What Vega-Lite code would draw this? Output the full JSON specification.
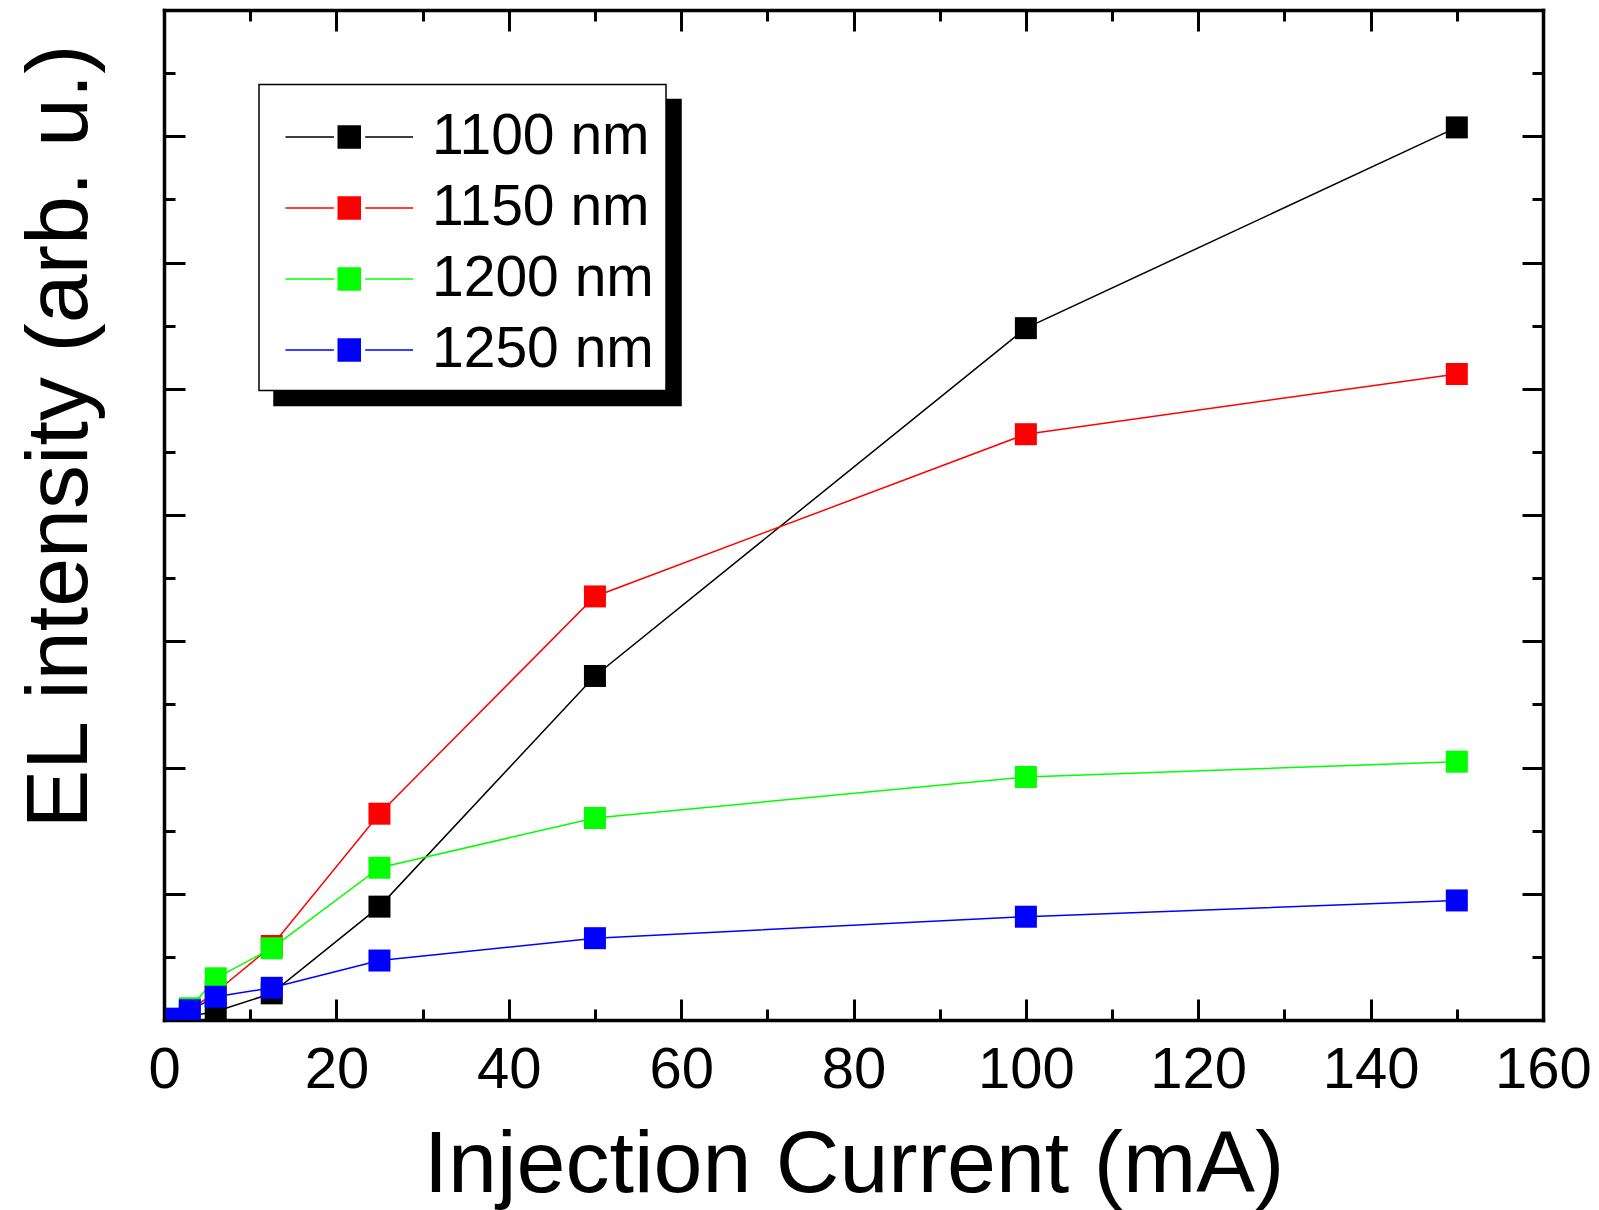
{
  "$schema": "https://vega.github.io/schema/vega-lite/v6.json",
  "width": 1379,
  "height": 1010,
  "autosize": {"type": "none"},
  "padding": {"left": 164, "top": 10, "right": 56, "bottom": 190},
  "background": "white",
  "config": {
    "view": {"stroke": null},
    "font": "Liberation Sans",
    "axis": {
      "domainColor": "black", "domainWidth": 3.5, "domainCap": "square",
      "tickColor": "black", "tickWidth": 3, "grid": false,
      "labelFont": "Liberation Sans", "titleFont": "Liberation Sans",
      "labelColor": "black", "titleColor": "black", "titleFontWeight": "normal"
    },
    "legend": {"labelFont": "Liberation Sans", "strokeWidth": 1.5, "labelLimit": 0}
  },
  "data": {
    "values": [
      {"I": 1.5, "v": 0.005, "series": "1100 nm", "s2": "1100 nm"},
      {"I": 3, "v": 0.03, "series": "1100 nm", "s2": "1100 nm"},
      {"I": 6, "v": 0.067, "series": "1100 nm", "s2": "1100 nm"},
      {"I": 12.5, "v": 0.211, "series": "1100 nm", "s2": "1100 nm"},
      {"I": 25, "v": 0.898, "series": "1100 nm", "s2": "1100 nm"},
      {"I": 50, "v": 2.725, "series": "1100 nm", "s2": "1100 nm"},
      {"I": 100, "v": 5.48, "series": "1100 nm", "s2": "1100 nm"},
      {"I": 150, "v": 7.07, "series": "1100 nm", "s2": "1100 nm"},
      {"I": 1.5, "v": 0.008, "series": "1150 nm", "s2": "1150 nm"},
      {"I": 3, "v": 0.08, "series": "1150 nm", "s2": "1150 nm"},
      {"I": 6, "v": 0.22, "series": "1150 nm", "s2": "1150 nm"},
      {"I": 12.5, "v": 0.586, "series": "1150 nm", "s2": "1150 nm"},
      {"I": 25, "v": 1.634, "series": "1150 nm", "s2": "1150 nm"},
      {"I": 50, "v": 3.355, "series": "1150 nm", "s2": "1150 nm"},
      {"I": 100, "v": 4.64, "series": "1150 nm", "s2": "1150 nm"},
      {"I": 150, "v": 5.117, "series": "1150 nm", "s2": "1150 nm"},
      {"I": 1.5, "v": 0.01, "series": "1200 nm", "s2": "1200 nm"},
      {"I": 3, "v": 0.093, "series": "1200 nm", "s2": "1200 nm"},
      {"I": 6, "v": 0.33, "series": "1200 nm", "s2": "1200 nm"},
      {"I": 12.5, "v": 0.568, "series": "1200 nm", "s2": "1200 nm"},
      {"I": 25, "v": 1.206, "series": "1200 nm", "s2": "1200 nm"},
      {"I": 50, "v": 1.6, "series": "1200 nm", "s2": "1200 nm"},
      {"I": 100, "v": 1.925, "series": "1200 nm", "s2": "1200 nm"},
      {"I": 150, "v": 2.046, "series": "1200 nm", "s2": "1200 nm"},
      {"I": 1.5, "v": 0.01, "series": "1250 nm", "s2": "1250 nm"},
      {"I": 3, "v": 0.077, "series": "1250 nm", "s2": "1250 nm"},
      {"I": 6, "v": 0.184, "series": "1250 nm", "s2": "1250 nm"},
      {"I": 12.5, "v": 0.255, "series": "1250 nm", "s2": "1250 nm"},
      {"I": 25, "v": 0.471, "series": "1250 nm", "s2": "1250 nm"},
      {"I": 50, "v": 0.648, "series": "1250 nm", "s2": "1250 nm"},
      {"I": 100, "v": 0.818, "series": "1250 nm", "s2": "1250 nm"},
      {"I": 150, "v": 0.947, "series": "1250 nm", "s2": "1250 nm"}
    ]
  },
  "layer": [
    {
      "mark": {"type": "line", "strokeWidth": 1.5, "clip": true},
      "encoding": {
        "x": {
          "field": "I", "type": "quantitative",
          "scale": {"domain": [0, 160], "nice": false, "zero": false},
          "axis": {
            "orient": "bottom",
            "values": [0, 10, 20, 30, 40, 50, 60, 70, 80, 90, 100, 110, 120, 130, 140, 150, 160],
            "labelExpr": "datum.value % 20 === 0 ? datum.label : ''",
            "tickSize": {"condition": {"test": "datum.value % 20 === 0", "value": -21}, "value": -11},
            "labelFontSize": 58, "labelPadding": 42, "labelFlush": false, "labelOverlap": false,
            "title": "Injection Current (mA)", "titleFontSize": 88,
            "titleBaseline": "alphabetic", "titleY": 171
          }
        },
        "y": {
          "field": "v", "type": "quantitative",
          "scale": {"domain": [0, 8], "nice": false},
          "axis": {
            "orient": "left",
            "values": [0, 0.5, 1, 1.5, 2, 2.5, 3, 3.5, 4, 4.5, 5, 5.5, 6, 6.5, 7, 7.5, 8],
            "labels": false,
            "tickSize": {"condition": {"test": "datum.value % 1 === 0", "value": -21}, "value": -11},
            "title": "EL intensity (arb. u.)", "titleFontSize": 88,
            "titleBaseline": "alphabetic", "titleAngle": -90, "titleX": -78, "titleY": 426
          }
        },
        "color": {
          "field": "series", "type": "nominal",
          "scale": {"domain": ["1100 nm", "1150 nm", "1200 nm", "1250 nm"], "range": ["#000000", "#ff0000", "#00ff00", "#0000ff"]}
        },
        "opacity": {
          "field": "s2", "type": "nominal",
          "scale": {"range": [1, 1, 1, 1]},
          "legend": {
            "orient": "none", "legendX": 110, "legendY": 89.6,
            "title": " ", "titleFontSize": 1, "titlePadding": 11,
            "fillColor": "black", "strokeColor": "black",
            "padding": 12, "rowPadding": 13,
            "symbolType": "M-5.8,0H-1.4M1.45,0H5.8M-1,-1H1V1H-1Z",
            "symbolSize": 484, "symbolOffset": 49.75, "symbolOpacity": 0, "labelOpacity": 0,
            "labelFontSize": 57, "labelOffset": 54.25, "labelColor": "black",
            "zindex": 0
          }
        }
      }
    },
    {
      "mark": {"type": "point", "shape": "square", "filled": true, "size": 484, "opacity": 1, "clip": true},
      "encoding": {
        "x": {
          "field": "I", "type": "quantitative",
          "axis": {
            "orient": "top",
            "values": [0, 10, 20, 30, 40, 50, 60, 70, 80, 90, 100, 110, 120, 130, 140, 150, 160],
            "labels": false,
            "tickSize": {"condition": {"test": "datum.value % 20 === 0", "value": -21}, "value": -11},
            "title": null
          }
        },
        "y": {
          "field": "v", "type": "quantitative",
          "axis": {
            "orient": "right",
            "values": [0, 0.5, 1, 1.5, 2, 2.5, 3, 3.5, 4, 4.5, 5, 5.5, 6, 6.5, 7, 7.5, 8],
            "labels": false,
            "tickSize": {"condition": {"test": "datum.value % 1 === 0", "value": -21}, "value": -11},
            "title": null
          }
        },
        "color": {
          "field": "series", "type": "nominal",
          "legend": {
            "orient": "none", "legendX": 95, "legendY": 74.6,
            "title": " ", "titleFontSize": 1, "titlePadding": 11,
            "fillColor": "white", "strokeColor": "black",
            "padding": 12, "rowPadding": 13,
            "symbolType": "M-5.8,0H-1.4M1.45,0H5.8M-1,-1H1V1H-1Z",
            "symbolSize": 484, "symbolOffset": 49.75, "symbolStrokeWidth": 1.5,
            "labelFontSize": 57, "labelOffset": 54.25, "labelColor": "black",
            "zindex": 1,
            "encode": {
              "symbols": {
                "update": {
                  "fill": {"scale": "color", "field": "value"},
                  "stroke": {"scale": "color", "field": "value"},
                  "strokeWidth": {"value": 1.5},
                  "opacity": {"value": 1}
                }
              }
            }
          }
        }
      }
    }
  ],
  "resolve": {"axis": {"x": "independent", "y": "independent"}}
}
